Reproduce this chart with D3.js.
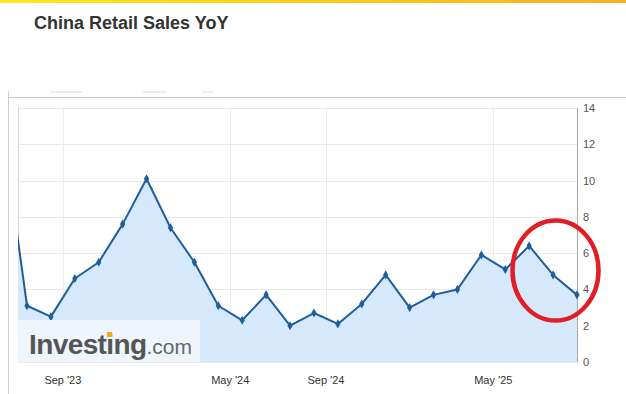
<!DOCTYPE html>
<html>
<head>
<meta charset="utf-8">
<script src="https://cdn.jsdelivr.net/npm/d3@7"></script>
<style>
  html, body { margin: 0; padding: 0; background: #fff; }
  svg { display: block; font-family: "Liberation Sans", Arial, sans-serif; }
</style>
</head>
<body>
<svg id="chart" width="626" height="394"></svg>
<script>
// monthly releases (Jan and Feb are published together)
const months = ["May '23", "Jun '23", "Jul '23", "Aug '23", "Sep '23", "Oct '23", "Nov '23", "Dec '23",
                "Feb '24", "Mar '24", "Apr '24", "May '24", "Jun '24", "Jul '24", "Aug '24", "Sep '24",
                "Oct '24", "Nov '24", "Dec '24", "Feb '25", "Mar '25", "Apr '25", "May '25", "Jun '25", "Jul '25"];
const values = [12.7, 3.1, 2.5, 4.6, 5.5, 7.6, 10.1, 7.4,
                5.5, 3.1, 2.3, 3.7, 2.0, 2.7, 2.1, 3.2,
                4.8, 3.0, 3.7, 4.0, 5.9, 5.1, 6.4, 4.8, 3.7];
const xTickLabels = ["Sep '23", "May '24", "Sep '24", "May '25"];
const yTicks = [0, 2, 4, 6, 8, 10, 12, 14];

const svg = d3.select('#chart');
const plot = { left: 18, right: 577, top: 107, bottom: 362 };

// top gradient strip
const defs = svg.append('defs');
const grad = defs.append('linearGradient').attr('id', 'topbar');
grad.append('stop').attr('offset', '0%').attr('stop-color', '#fde81a');
grad.append('stop').attr('offset', '100%').attr('stop-color', '#f9b01f');
svg.append('rect').attr('x', 0).attr('y', 0).attr('width', 626).attr('height', 3).attr('fill', 'url(#topbar)');

defs.append('clipPath').attr('id', 'plotclip')
    .append('rect')
    .attr('x', plot.left).attr('y', plot.top)
    .attr('width', plot.right - plot.left).attr('height', plot.bottom - plot.top);

// title
svg.append('text')
    .attr('x', 34).attr('y', 29)
    .attr('font-size', 18).attr('font-weight', 'bold').attr('fill', '#333')
    .text('China Retail Sales YoY');

// frame lines of the widget
svg.append('line').attr('x1', 8).attr('x2', 626).attr('y1', 97.5).attr('y2', 97.5).attr('stroke', '#cfcfcf');
svg.append('line').attr('x1', 8.5).attr('x2', 8.5).attr('y1', 91).attr('y2', 394).attr('stroke', '#cfcfcf');
// faint range-selector remnants
[[50, 82], [143, 167], [202, 213]].forEach(([a, b]) => {
    svg.append('line').attr('x1', a).attr('x2', b).attr('y1', 92).attr('y2', 92)
        .attr('stroke', '#e6e6e6').attr('stroke-width', 1.5);
});

const x = d3.scaleLinear().domain([1, months.length - 1]).range([27, 577]);
const y = d3.scaleLinear().domain([0, 14]).range([plot.bottom, 108]);

// grid
const g = svg.append('g');
g.selectAll('.hgrid').data(yTicks).join('line')
    .attr('x1', plot.left).attr('x2', plot.right)
    .attr('y1', d => Math.round(y(d)) + 0.5).attr('y2', d => Math.round(y(d)) + 0.5)
    .attr('stroke', '#e9e9e9');

// labels sit 1.5 steps left of their month's point, as in the source chart
const tickPos = xTickLabels.map(l => x(months.indexOf(l) - 1.5));
g.selectAll('.vgrid').data(tickPos).join('line')
    .attr('x1', d => Math.round(d) + 0.5).attr('x2', d => Math.round(d) + 0.5)
    .attr('y1', plot.top).attr('y2', plot.bottom)
    .attr('stroke', '#ececec');

g.append('line').attr('x1', plot.left + 0.5).attr('x2', plot.left + 0.5)
    .attr('y1', plot.top).attr('y2', plot.bottom).attr('stroke', '#d8d8d8');

// area + line
const pts = values.map((v, i) => [x(i), y(v)]);
const series = svg.append('g').attr('clip-path', 'url(#plotclip)');
series.append('path')
    .attr('d', d3.area().x(d => d[0]).y0(y(0)).y1(d => d[1])(pts))
    .attr('fill', '#d6e9fc');
series.append('path')
    .attr('d', d3.line()(pts))
    .attr('fill', 'none').attr('stroke', '#1e5e9c').attr('stroke-width', 2)
    .attr('stroke-linejoin', 'round');

// right axis
svg.append('line').attr('x1', plot.right + 0.5).attr('x2', plot.right + 0.5)
    .attr('y1', 108).attr('y2', plot.bottom).attr('stroke', '#a8a8a8');
svg.selectAll('.ylab').data(yTicks).join('text')
    .attr('x', 583).attr('y', d => y(d) + 4)
    .attr('font-size', 11).attr('fill', '#555')
    .text(d => d);

// markers (first point lies outside the visible window)
svg.append('g').selectAll('path').data(pts.slice(1)).join('path')
    .attr('transform', d => `translate(${d[0]},${d[1]})`)
    .attr('d', d3.symbol().type(d3.symbolDiamond).size(24))
    .attr('fill', '#1e5e9c');

// x labels
svg.selectAll('.xlab').data(xTickLabels).join('text')
    .attr('x', (d, i) => tickPos[i]).attr('y', 384)
    .attr('text-anchor', 'middle')
    .attr('font-size', 11).attr('fill', '#333')
    .text(d => d);

// watermark
const logo = svg.append('g');
logo.append('rect').attr('x', 18).attr('y', 320).attr('width', 182).attr('height', 42)
    .attr('fill', '#eef5fd');
const brand = logo.append('text').attr('x', 29).attr('y', 354);
brand.append('tspan').attr('font-size', 28).attr('font-weight', 'bold').attr('fill', '#555')
    .attr('letter-spacing', -0.6).text('Investing');
brand.append('tspan').attr('font-size', 21).attr('fill', '#666').text('.com');
// orange dot over the "i"
const tn = brand.node();
const iStart = tn.getSubStringLength(0, 6);
const iW = tn.getSubStringLength(6, 1);
logo.append('rect')
    .attr('x', 29 + iStart + 0.5).attr('y', 332)
    .attr('width', Math.max(iW - 2, 4)).attr('height', 5)
    .attr('fill', '#f5a623');

// highlight circle
svg.append('ellipse')
    .attr('cx', 555.5).attr('cy', 270.5).attr('rx', 43).attr('ry', 50)
    .attr('fill', 'none').attr('stroke', '#e11d25').attr('stroke-width', 4.5);
</script>
</body>
</html>
